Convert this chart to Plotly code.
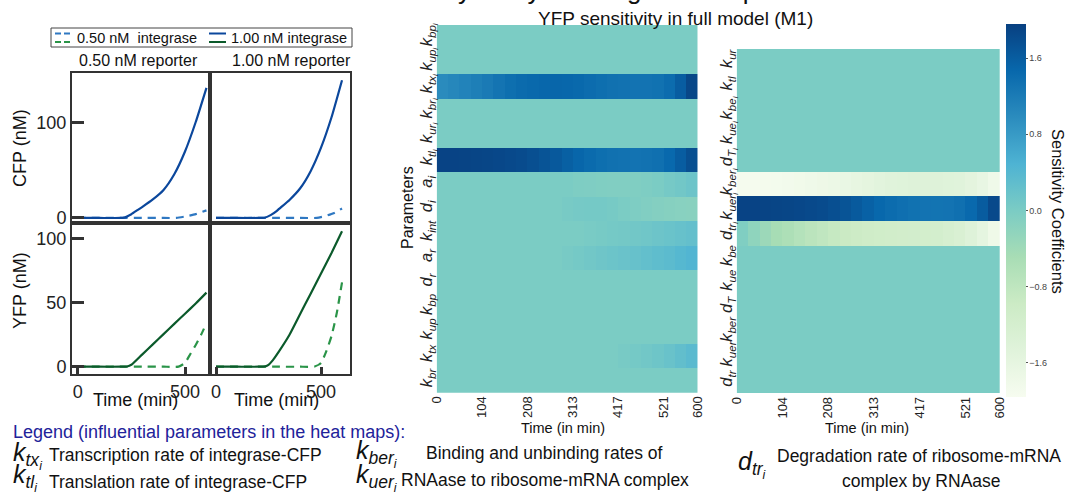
import plotly.graph_objects as go

W, H = 1069, 495
def px(x): return x / W
def py(y): return 1 - y / H

REG = "Liberation Sans, Arial, sans-serif"
NAR = "Liberation Sans Narrow, Arial Narrow, Liberation Sans, Arial, sans-serif"

# ---------------- line-panel data (time in min, concentration in nM) -------------
cfp_r05_hi_t = [0, 100, 200, 215, 250, 280, 300, 350, 400, 450, 500, 550, 600]
cfp_r05_hi = [0, 0, 0, 0.3, 4, 8.5, 11.5, 19.5, 29.5, 46, 70, 101, 137]
cfp_r05_lo_t = [0, 100, 200, 300, 400, 460, 500, 550, 600]
cfp_r05_lo = [0, 0, 0, 0, 0, 0.1, 1.5, 4, 8]

cfp_r10_hi_t = [0, 100, 200, 230, 260, 290, 300, 350, 400, 450, 500, 550, 600]
cfp_r10_hi = [0, 0, 0, 0.2, 3, 7.5, 9.5, 19, 31, 49, 74, 106, 145]
cfp_r10_lo_t = [0, 100, 200, 300, 400, 480, 520, 560, 600]
cfp_r10_lo = [0, 0, 0, 0, 0, 0.1, 2, 5, 10]

yfp_r05_hi_t = [0, 100, 200, 230, 250, 300, 350, 400, 450, 500, 550, 600]
yfp_r05_hi = [0, 0, 0, 0.2, 1.5, 9.5, 17.5, 25.5, 33.5, 41.5, 49.5, 58]
yfp_r05_lo_t = [0, 100, 200, 300, 400, 470, 500, 525, 550, 575, 600]
yfp_r05_lo = [0, 0, 0, 0, 0, 0.1, 3, 10, 17, 25, 34]

yfp_r10_hi_t = [0, 100, 200, 235, 250, 270, 300, 350, 400, 450, 500, 550, 600]
yfp_r10_hi = [0, 0, 0, 0.3, 1.5, 5, 12, 25, 41, 57, 73, 89, 106]
yfp_r10_lo_t = [0, 100, 200, 300, 400, 470, 500, 525, 550, 575, 600]
yfp_r10_lo = [0, 0, 0, 0, 0, 0.2, 3, 12, 24, 42, 66]

# ---------------- heat-map data ----------------
time_edges = [0, 26.09, 52.17, 78.26, 104.35, 130.43, 156.52, 182.61, 208.70, 234.78,
              260.87, 286.96, 313.04, 339.13, 365.22, 391.30, 417.39, 443.48, 469.57,
              495.65, 521.74, 547.83, 573.91, 600]
time_tickvals = [0, 104.35, 208.70, 313.04, 417.39, 521.74, 600]
time_ticktext = ["0", "104", "208", "313", "417", "521", "600"]

params_left = ["<i>k</i><sub><i>bp<sub>i</sub></i></sub>", "<i>k</i><sub><i>up<sub>i</sub></i></sub>",
               "<i>k</i><sub><i>tx<sub>i</sub></i></sub>", "<i>k</i><sub><i>br<sub>i</sub></i></sub>",
               "<i>k</i><sub><i>ur<sub>i</sub></i></sub>", "<i>k</i><sub><i>tl<sub>i</sub></i></sub>",
               "<i>a</i><sub><i>i</i></sub>", "<i>d</i><sub><i>i</i></sub>",
               "<i>k</i><sub><i>int</i></sub>", "<i>a</i><sub><i>r</i></sub>",
               "<i>d</i><sub><i>r</i></sub>", "<i>k</i><sub><i>bp</i></sub>",
               "<i>k</i><sub><i>up</i></sub>", "<i>k</i><sub><i>tx</i></sub>",
               "<i>k</i><sub><i>br</i></sub>"]

zero = [0.0] * 23
s_kbp_i = zero
s_kup_i = zero
s_ktx_i = [1.00, 1.05, 1.10, 1.16, 1.22, 1.30, 1.38, 1.43, 1.46, 1.48, 1.49, 1.48, 1.46, 1.42,
           1.38, 1.35, 1.33, 1.32, 1.32, 1.34, 1.42, 1.60, 1.88]
s_kbr_i = zero
s_kur_i = zero
s_ktl_i = [1.92, 1.92, 1.91, 1.90, 1.89, 1.87, 1.85, 1.82, 1.78, 1.72, 1.65, 1.57, 1.49, 1.43,
           1.38, 1.35, 1.33, 1.32, 1.33, 1.36, 1.45, 1.60, 1.78]
s_a_i = [0, 0, 0, 0, 0, 0, 0, 0, 0, 0, 0, 0, -0.03, -0.04, -0.05, -0.06, -0.06, -0.05, -0.03,
         0.0, 0.05, 0.10, 0.15]
s_d_i = [0, 0, 0, 0, 0, 0, 0, 0, 0, 0, 0, 0.03, 0.05, 0.06, 0.06, 0.04, 0.0, -0.03, -0.06,
         -0.10, -0.12, -0.14, -0.15]
s_kint = [0, 0, 0, 0, 0, 0, 0, 0, 0, 0, 0, 0, 0, 0.02, 0.04, 0.06, 0.08, 0.10, 0.12, 0.15,
          0.18, 0.22, 0.25]
s_a_r = [0, 0, 0, 0, 0, 0, 0, 0, 0, 0, 0, 0.03, 0.06, 0.10, 0.13, 0.16, 0.19, 0.22, 0.26,
         0.30, 0.34, 0.40, 0.45]
s_d_r = zero
s_kbp = zero
s_kup = zero
s_ktx = [0, 0, 0, 0, 0, 0, 0, 0, 0, 0, 0, 0, 0, 0, 0, 0, 0.03, 0.06, 0.10, 0.14, 0.20, 0.27, 0.35]
s_kbr = zero

params_right = ["<i>k</i><sub><i>ur</i></sub>", "<i>k</i><sub><i>tl</i></sub>",
                "<i>k</i><sub><i>be<sub>i</sub></i></sub>", "<i>k</i><sub><i>ue<sub>i</sub></i></sub>",
                "<i>d</i><sub><i>T<sub>i</sub></i></sub>", "<i>k</i><sub><i>ber<sub>i</sub></i></sub>",
                "<i>k</i><sub><i>uer<sub>i</sub></i></sub>", "<i>d</i><sub><i>tr<sub>i</sub></i></sub>",
                "<i>k</i><sub><i>be</i></sub>", "<i>k</i><sub><i>ue</i></sub>",
                "<i>d</i><sub><i>T</i></sub>", "<i>k</i><sub><i>ber</i></sub>",
                "<i>k</i><sub><i>uer</i></sub>", "<i>d</i><sub><i>tr</i></sub>"]
s_kur = zero
s_ktl = zero
s_kbe_i = zero
s_kue_i = zero
s_dT_i = zero
s_kber_i = [-1.92, -1.91, -1.90, -1.88, -1.86, -1.83, -1.80, -1.76, -1.72, -1.67, -1.62, -1.57,
            -1.52, -1.48, -1.45, -1.43, -1.42, -1.42, -1.44, -1.48, -1.55, -1.65, -1.80]
s_kuer_i = [1.92, 1.92, 1.91, 1.90, 1.89, 1.87, 1.85, 1.82, 1.78, 1.72, 1.64, 1.55, 1.47, 1.41,
            1.37, 1.34, 1.32, 1.31, 1.32, 1.36, 1.45, 1.62, 1.85]
s_dtr_i = [-0.05, -0.22, -0.36, -0.48, -0.56, -0.66, -0.75, -0.82, -0.90, -0.96, -1.01, -1.05,
           -1.08, -1.10, -1.12, -1.13, -1.14, -1.16, -1.22, -1.30, -1.42, -1.58, -1.78]
s_kbe = zero
s_kue = zero
s_dT = zero
s_kber = zero
s_kuer = zero
s_dtr = zero

z_left = [s_kbp_i, s_kup_i, s_ktx_i, s_kbr_i, s_kur_i, s_ktl_i, s_a_i, s_d_i, s_kint, s_a_r,
          s_d_r, s_kbp, s_kup, s_ktx, s_kbr]
z_right = [s_kur, s_ktl, s_kbe_i, s_kue_i, s_dT_i, s_kber_i, s_kuer_i, s_dtr_i, s_kbe, s_kue,
           s_dT, s_kber, s_kuer, s_dtr]

cbar_ticks = [-1.6, -0.8, 0.0, 0.8, 1.6]
cbar_text = ["\u22121.6", "\u22120.8", "0.0", "0.8", "1.6"]

GNBU = [[0.0, "rgb(247,252,240)"], [0.125, "rgb(224,243,219)"], [0.25, "rgb(204,235,197)"],
        [0.375, "rgb(168,221,181)"], [0.5, "rgb(123,204,196)"], [0.625, "rgb(78,179,211)"],
        [0.75, "rgb(43,140,190)"], [0.875, "rgb(8,104,172)"], [1.0, "rgb(8,64,129)"]]

BLUE_HI, BLUE_LO = "#0b479c", "#2f78c2"
GREEN_HI, GREEN_LO = "#0b5a2b", "#2a9448"

fig = go.Figure()

def line(t, v, color, dash, xa, ya):
    fig.add_trace(go.Scatter(x=t, y=v, mode="lines", xaxis=xa, yaxis=ya, showlegend=False,
                             line=dict(color=color, width=2.2, dash=dash, shape="spline",
                                       smoothing=0.5), hoverinfo="skip"))

DASH = "8px,6px"
line(cfp_r05_lo_t, cfp_r05_lo, BLUE_LO, DASH, "x", "y")
line(cfp_r05_hi_t, cfp_r05_hi, BLUE_HI, "solid", "x", "y")
line(cfp_r10_lo_t, cfp_r10_lo, BLUE_LO, DASH, "x2", "y2")
line(cfp_r10_hi_t, cfp_r10_hi, BLUE_HI, "solid", "x2", "y2")
line(yfp_r05_lo_t, yfp_r05_lo, GREEN_LO, DASH, "x3", "y3")
line(yfp_r05_hi_t, yfp_r05_hi, GREEN_HI, "solid", "x3", "y3")
line(yfp_r10_lo_t, yfp_r10_lo, GREEN_LO, DASH, "x4", "y4")
line(yfp_r10_hi_t, yfp_r10_hi, GREEN_HI, "solid", "x4", "y4")

fig.add_trace(go.Heatmap(x=time_edges, y=list(range(len(params_left))), z=z_left,
                         xaxis="x5", yaxis="y5", coloraxis="coloraxis", hoverinfo="skip"))
fig.add_trace(go.Heatmap(x=time_edges, y=list(range(len(params_right))), z=z_right,
                         xaxis="x6", yaxis="y6", coloraxis="coloraxis", hoverinfo="skip"))

frame = dict(showline=True, mirror=True, linecolor="#333", linewidth=2, showgrid=False,
             zeroline=False)
tfont = dict(family=REG, size=18, color="#222")
hm_x = dict(range=[0, 600], tickvals=time_tickvals, ticktext=time_ticktext, tickangle=-90,
            tickfont=dict(family=NAR, size=13, color="#222"), ticks="",
            showgrid=False, zeroline=False, showline=False, automargin=False)
hm_y = dict(tickangle=-90, tickfont=dict(family=NAR, size=16.5, color="#222"), ticks="",
            showgrid=False, zeroline=False, showline=False, automargin=False)

lay = dict(
    width=W, height=H, margin=dict(l=0, r=0, t=0, b=0, autoexpand=False),
    paper_bgcolor="white", plot_bgcolor="white", showlegend=False,
    font=dict(family=NAR, color="#111"),
    xaxis=dict(domain=[px(72), px(210)], range=[-26.6, 616.5], anchor="y",
               showticklabels=False, ticks="", **frame),
    yaxis=dict(domain=[py(223), py(73)], range=[-5.3, 152.6], anchor="x",
               tickvals=[0, 100], ticks="inside", ticklen=12, tickwidth=2.5, tickcolor="#333",
               tickfont=tfont, **frame),
    xaxis2=dict(domain=[px(210), px(350)], range=[-28.6, 638], anchor="y2",
                showticklabels=False, ticks="", **frame),
    yaxis2=dict(domain=[py(223), py(73)], range=[-5.3, 152.6], anchor="x2",
                showticklabels=False, ticks="", **frame),
    xaxis3=dict(domain=[px(72), px(210)], range=[-26.6, 616.5], anchor="y3",
                tickvals=[0, 500], ticks="inside", ticklen=7, tickwidth=2.5, tickcolor="#333",
                tickfont=tfont, **frame),
    yaxis3=dict(domain=[py(374), py(223)], range=[-5.7, 112.5], anchor="x3",
                tickvals=[0, 50, 100], ticks="inside", ticklen=12, tickwidth=2.5,
                tickcolor="#333", tickfont=tfont, **frame),
    xaxis4=dict(domain=[px(210), px(350)], range=[-28.6, 638], anchor="y4",
                tickvals=[0, 500], ticks="inside", ticklen=7, tickwidth=2.5, tickcolor="#333",
                tickfont=tfont, **frame),
    yaxis4=dict(domain=[py(374), py(223)], range=[-5.7, 112.5], anchor="x4",
                showticklabels=False, ticks="", **frame),
    xaxis5=dict(domain=[px(436.7), px(697.7)], anchor="y5", **hm_x),
    yaxis5=dict(domain=[py(392.7), py(25)], range=[len(params_left) - 0.5, -0.5], anchor="x5",
                tickvals=list(range(len(params_left))), ticktext=params_left, **hm_y),
    xaxis6=dict(domain=[px(736.7), px(1000)], anchor="y6", **hm_x),
    yaxis6=dict(domain=[py(393.3), py(49)], range=[len(params_right) - 0.5, -0.5], anchor="x6",
                tickvals=list(range(len(params_right))), ticktext=params_right, **hm_y),
    coloraxis=dict(colorscale=GNBU, cmin=-1.96, cmax=1.96,
                   colorbar=dict(x=px(1006), xanchor="left", xpad=0, ypad=0, thickness=20,
                                 thicknessmode="pixels", len=372.7, lenmode="pixels",
                                 y=py(210.35), yanchor="middle",
                                 tickvals=cbar_ticks, ticktext=cbar_text, ticks="outside",
                                 ticklen=2, tickcolor="#555", outlinewidth=0,
                                 tickfont=dict(family=REG, size=9, color="#444"))),
)
fig.update_layout(**lay)

ann = []
def text(x, y, s, size, family=NAR, color="#111", xanchor="center", angle=0):
    ann.append(dict(x=px(x), y=py(y), xref="paper", yref="paper", text=s, showarrow=False,
                    xanchor=xanchor, yanchor="middle", textangle=angle, borderpad=0,
                    font=dict(family=family, size=size, color=color)))

# line panel texts
text(138, 60, "0.50 nM reporter", 16, REG)
text(291, 60, "1.00 nM reporter", 16, REG)
text(20, 148, "CFP (nM)", 18, REG, angle=-90)
text(20, 291, "YFP (nM)", 18, REG, angle=-90)
text(135, 400, "Time (min)", 18, REG)
text(276, 400, "Time (min)", 18, REG)
text(76, 38, "0.50 nM  integrase", 14.5, REG, xanchor="left")
text(230, 38, "1.00 nM integrase", 14.5, REG, xanchor="left")

# heat map texts
ann.append(dict(x=px(562), y=py(6), xref="paper", yref="paper",
                text="Sensitivity analysis using heat maps", showarrow=False,
                xanchor="center", yanchor="bottom", borderpad=0,
                font=dict(family=NAR, size=26, color="#111")))
text(675, 18, "YFP sensitivity in full model (M1)", 19)
text(407, 208, "Parameters", 16, angle=-90)
text(563, 428, "Time (in min)", 14.5)
text(867, 428, "Time (in min)", 14.5)
text(1058, 211, "Sensitivity Coefficients", 16.5, REG, angle=90)

# bottom legend
text(12, 432, "Legend (influential parameters in the heat maps):", 18, color="#22229a",
     xanchor="left")
text(12, 455, "<i>k</i><sub><i>tx<sub>i</sub></i></sub>", 25, xanchor="left")
text(48, 455, "Transcription rate of integrase-CFP", 17.5, xanchor="left")
text(12, 477, "<i>k</i><sub><i>tl<sub>i</sub></i></sub>", 25, xanchor="left")
text(48, 482, "Translation rate of integrase-CFP", 17.5, xanchor="left")
text(355, 453, "<i>k</i><sub><i>ber<sub>i</sub></i></sub>", 25, xanchor="left")
text(425, 453, "Binding and unbinding rates of", 17.5, xanchor="left")
text(355, 477, "<i>k</i><sub><i>uer<sub>i</sub></i></sub>", 25, xanchor="left")
text(400, 480, "RNAase to ribosome-mRNA complex", 17.5, xanchor="left")
text(737, 464, "<i>d</i><sub><i>tr<sub>i</sub></i></sub>", 25, xanchor="left")
text(776, 456, "Degradation rate of ribosome-mRNA", 17.5, xanchor="left")
text(921, 481, "complex by RNAase", 17.5)

fig.update_layout(annotations=ann)

# legend box for the line panels
shapes = [dict(type="rect", xref="paper", yref="paper", x0=px(51), x1=px(352), y0=py(47),
               y1=py(28), line=dict(color="#444", width=1))]
for (x0, x1, y, c, d) in [(55, 71, 33.5, BLUE_LO, "6px,3px"), (55, 71, 42, GREEN_LO, "6px,3px"),
                          (209, 226, 33.5, BLUE_HI, "solid"), (209, 226, 42, GREEN_HI, "solid")]:
    shapes.append(dict(type="line", xref="paper", yref="paper", x0=px(x0), x1=px(x1),
                       y0=py(y), y1=py(y), line=dict(color=c, width=2, dash=d)))
fig.update_layout(shapes=shapes)

fig.write_html("out.html")
